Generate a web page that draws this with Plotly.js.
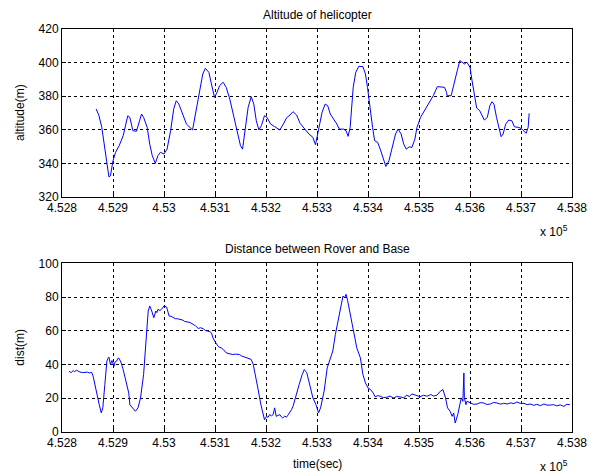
<!DOCTYPE html>
<html>
<head>
<meta charset="utf-8">
<script src="https://cdn.plot.ly/plotly-3.0.1.min.js"></script>
<style>html,body{margin:0;padding:0;background:#fff;}#chart{width:599px;height:476px;}</style>
</head>
<body>
<div id="chart"></div>
<script>
// Altitude of helicopter (time in sec, altitude in m)
var altTime = [452867,452872.5,452878,452884,452888,452892,452895,452900,452905,452912,452920,452925,452929,452933,452939,452946,452951,452956,452960,452967,452972,452977,452983,452988,452993,453000,453006,453013,453019,453024,453029,453036,453044,453056,453063,453070,453076,453081,453088,453093,453099,453104,453109,453116,453122,453129,453137,453145,453150,453154,453158,453165,453171,453176,453181,453186,453191,453197,453202,453209,453217,453227,453234,453240,453247,453253,453260,453267,453276,453284,453292,453297,453304,453310,453316,453321,453326,453333,453339,453344,453352,453357,453361,453365,453371,453376,453382,453390,453395,453399,453402,453405,453409,453413,453419,453424,453429,453435,453441,453447,453454,453459,453465,453470,453475,453481,453486,453492,453496,453503,453511,453519,453528,453536,453544,453550,453554,453555,453563,453568,453575,453580,453585,453589,453594,453600,453604,453609,453613,453619,453623,453628,453634,453639,453643,453647,453652,453657,453661,453665,453670,453676,453682,453687,453696,453702,453710,453714,453716];
var altValue = [372.4,368.4,361.5,349.5,338.6,332,332.6,341.6,346.6,350.5,356.5,363.4,368.4,367.4,359.5,359.1,364.4,369.4,367.4,361.5,351.5,344.6,340,344.6,346.6,345.6,348.5,359.5,372.4,377.3,375.4,369.4,363.4,359.9,371.4,383.3,393.2,396.6,394.2,387.3,379.3,382.3,386.3,388.3,385.3,378.3,367.4,356.5,350.5,348.5,357.5,373.4,379.7,375.4,365.4,359.9,362.5,368.4,367.4,363.4,361.9,359.9,363.4,367,368.8,370.8,368.8,363.8,360.5,357.5,355.5,351.1,361.5,370.5,375.3,374.4,369.4,366.4,363.4,360.4,360.4,359.4,356.1,361.4,385.3,394.2,397.8,397.6,393.2,385.3,377.3,371.4,361.4,353.5,352.5,348.5,343.5,338.2,341.5,349.5,357.5,360.4,357.5,351.5,348.5,349.9,349.5,354.5,361.4,367.4,371.4,375.3,380.3,385.7,385.7,385.3,382.3,380.3,380.3,387.3,395.2,401.2,400.2,399.2,400.2,397.2,389.3,379.3,373,371.4,368.4,365.8,367.4,374.4,376.7,375.3,367.4,361.8,355.9,357.5,363.4,365.8,365.4,361.8,361.4,360.4,357.9,361.4,369.8];

// Distance between Rover and Base (time in sec, distance in m)
var distTime = [452814,452818,452822,452825,452828,452832,452835,452840,452844,452850,452854,452858,452861,452864,452867,452870,452873,452877,452880,452884,452888,452890,452892,452895,452898,452902,452904,452907,452910,452912,452916,452920,452923,452926,452928,452931,452933,452936,452939,452944,452949,452954,452960,452965,452969,452972,452974,452976,452980,452984,452986,452988,452992,452995,453000,453005,453008,453010,453014,453018,453022,453027,453032,453037,453040,453047,453051,453057,453062,453067,453072,453077,453081,453086,453090,453093,453096,453100,453103,453107,453112,453117,453122,453128,453135,453140,453148,453152,453158,453162,453165,453171,453175,453178,453184,453190,453195,453197,453201,453204,453207,453211,453214,453217,453220,453224,453227,453230,453233,453237,453240,453243,453246,453250,453253,453259,453265,453271,453275,453280,453285,453292,453298,453303,453307,453314,453320,453326,453331,453336,453342,453347,453351,453354,453357,453360,453365,453372,453378,453385,453390,453395,453400,453405,453410,453414,453419,453424,453430,453437,453443,453450,453456,453463,453470,453476,453481,453486,453491,453496,453502,453509,453516,453523,453529,453535,453542,453547,453552,453556,453559,453561,453565,453568,453571,453576,453580,453583,453586,453588,453589,453592,453594,453598,453601,453607,453614,453620,453627,453633,453640,453646,453653,453660,453666,453673,453680,453686,453692,453699,453706,453712,453718,453725,453731,453738,453745,453751,453758,453764,453770,453777,453784,453790,453796,453800];
var distValue = [36.0,35.2,36.4,35.8,36.6,35.9,35.6,35.2,35.4,35.5,35.0,35.4,33.1,28.5,24.2,20.0,16.2,11.3,14.3,28.1,42.0,43.5,44.4,40.0,42.4,39.0,41.5,42.0,43.8,43.6,41.0,37.0,33.1,29.0,27.1,23.0,16.2,15.0,14.3,12.3,14.3,20.2,34.1,53.9,71.7,74.7,72.5,71.7,67.7,71.7,70.8,72.7,72.0,72.7,74.7,74.1,71.0,68.7,68.6,68.1,67.2,67.1,66.8,66.3,65.6,65.3,64.9,63.8,62.9,61.4,61.8,61.2,60.2,59.8,59.5,58.8,55.8,53.5,51.9,50.5,49.9,48.7,46.9,46.4,45.9,46.2,45.9,45.1,44.4,43.8,43.4,43.0,40.0,36.0,26.1,16.2,10.3,7.3,9.3,8.7,10.3,9.6,10.3,14.3,9.3,10.1,10.3,9.0,8.3,9.5,8.7,10.0,11.3,13.2,15.2,22.2,28.1,34.1,37.0,35.1,28.1,20.2,16.2,11.3,14.3,24.2,38.0,44.0,48.0,57.8,67.7,73.7,80.6,79.6,81.6,78.0,69.7,59.8,49.9,44.0,34.1,29.1,26.1,25.1,23.2,20.8,21.6,21.2,20.4,20.6,21.3,20.2,21.0,20.8,20.3,21.8,21.0,22.6,22.0,21.8,20.9,21.8,21.2,22.2,21.3,21.8,24.2,25.1,20.2,14.3,13.0,12.3,9.3,11.3,5.3,10.3,16.2,20.2,18.2,35.0,20.2,16.2,18.2,17.6,17.2,16.4,16.6,17.4,17.2,16.3,16.6,17.5,17.2,16.5,17.0,16.6,17.3,16.8,17.8,16.9,17.0,16.2,16.6,15.8,16.4,15.6,16.6,15.9,16.0,16.2,15.5,16.1,15.2,16.4,16.2];

var xTickVals = [452800,452900,453000,453100,453200,453300,453400,453500,453600,453700,453800];
var xTickText = ['4.528','4.529','4.53','4.531','4.532','4.533','4.534','4.535','4.536','4.537','4.538'];
var altTicks = [320,340,360,380,400,420];
var distTicks = [0,20,40,60,80,100];

var FONT = {family: 'Liberation Sans, Arial, sans-serif', size: 12, color: '#000'};

function xAxis(anchor) {
  return {
    range: [452800, 453800], tickvals: xTickVals, ticktext: xTickText,
    showgrid: true, gridcolor: '#000', griddash: '3px,3px', gridwidth: 1,
    showline: true, linecolor: '#000', linewidth: 1, mirror: true,
    ticks: 'inside', ticklen: 4, tickcolor: '#000',
    zeroline: false, anchor: anchor, tickfont: FONT, domain: [0, 1]
  };
}
function yAxis(range, ticks, domain, anchor) {
  return {
    range: range, tickvals: ticks,
    showgrid: true, gridcolor: '#000', griddash: '3px,3px', gridwidth: 1,
    showline: true, linecolor: '#000', linewidth: 1, mirror: true,
    ticks: 'inside', ticklen: 4, tickcolor: '#000',
    zeroline: false, anchor: anchor, tickfont: FONT, domain: domain
  };
}

var traces = [
  {x: altTime, y: altValue, xaxis: 'x', yaxis: 'y', type: 'scatter', mode: 'lines',
   line: {color: '#0000ff', width: 1}, hoverinfo: 'skip'},
  {x: distTime, y: distValue, xaxis: 'x2', yaxis: 'y2', type: 'scatter', mode: 'lines',
   line: {color: '#0000ff', width: 1}, hoverinfo: 'skip'}
];

var layout = {
  width: 599, height: 476,
  margin: {l: 62, r: 27, t: 29, b: 44},
  paper_bgcolor: '#fff', plot_bgcolor: '#fff',
  showlegend: false, font: FONT,
  xaxis: xAxis('y'),
  yaxis: yAxis([320, 420], altTicks, [0.5831, 1], 'x'),
  xaxis2: xAxis('y2'),
  yaxis2: yAxis([0, 100], distTicks, [0, 0.4186], 'x2'),
  annotations: [
    {text: 'Altitude of helicopter', xref: 'paper', yref: 'paper', x: 0.5, y: 1, yshift: 14, showarrow: false, font: FONT, xanchor: 'center', yanchor: 'middle'},
    {text: 'Distance between Rover and Base', xref: 'paper', yref: 'paper', x: 0.5, y: 0.4186, yshift: 14, showarrow: false, font: FONT, xanchor: 'center', yanchor: 'middle'},
    {text: 'altitude(m)', xref: 'paper', yref: 'paper', x: 0, xshift: -42, y: 0.7916, textangle: -90, showarrow: false, font: FONT, xanchor: 'center', yanchor: 'middle'},
    {text: 'dist(m)', xref: 'paper', yref: 'paper', x: 0, xshift: -42, y: 0.2093, textangle: -90, showarrow: false, font: FONT, xanchor: 'center', yanchor: 'middle'},
    {text: 'time(sec)', xref: 'paper', yref: 'paper', x: 0.5, y: 0, yshift: -32, showarrow: false, font: FONT, xanchor: 'center', yanchor: 'middle'},
    {text: 'x 10<sup>5</sup>', xref: 'paper', yref: 'paper', x: 1, xshift: -18, y: 0.5831, yshift: -34, showarrow: false, font: FONT, xanchor: 'center', yanchor: 'middle'},
    {text: 'x 10<sup>5</sup>', xref: 'paper', yref: 'paper', x: 1, xshift: -18, y: 0, yshift: -34, showarrow: false, font: FONT, xanchor: 'center', yanchor: 'middle'}
  ]
};

Plotly.newPlot('chart', traces, layout, {staticPlot: true, displayModeBar: false});
</script>
</body>
</html>
